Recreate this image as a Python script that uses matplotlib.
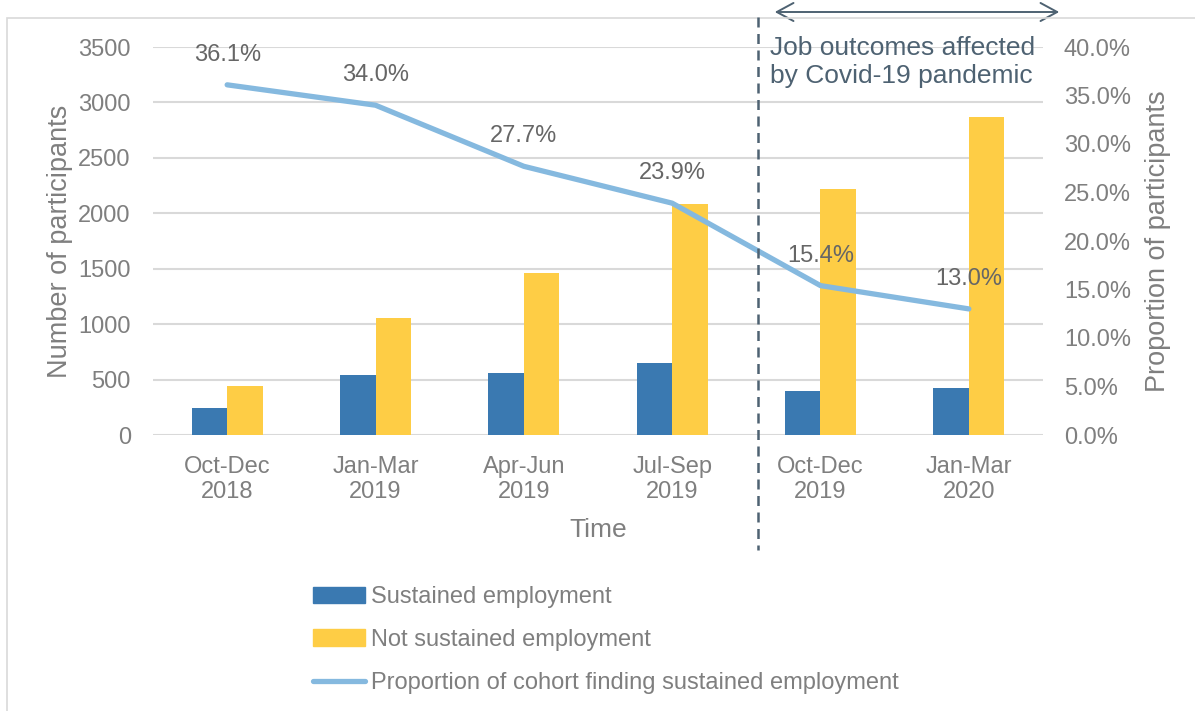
import numpy as np
import matplotlib
matplotlib.use('Agg')
import matplotlib.pyplot as plt
from matplotlib.lines import Line2D
from matplotlib.patches import Patch, Rectangle, FancyArrowPatch

plt.rcParams['font.family'] = ['Liberation Sans', 'DejaVu Sans']

# cohort quarters and outcomes
quarters = ['Oct-Dec\n2018', 'Jan-Mar\n2019', 'Apr-Jun\n2019',
            'Jul-Sep\n2019', 'Oct-Dec\n2019', 'Jan-Mar\n2020']
sustained = [246, 544, 559, 647, 397, 424]
not_sustained = [439, 1055, 1461, 2084, 2216, 2866]
proportion = [36.1, 34.0, 27.7, 23.9, 15.4, 13.0]

left_ticks = [0, 500, 1000, 1500, 2000, 2500, 3000, 3500]
right_ticks = [0, 5, 10, 15, 20, 25, 30, 35, 40]

BLUE = '#3A79B1'
YELLOW = '#FECD45'
LINE = '#85B9DF'
GREY = '#7F7F7F'
SLATE = '#4E6272'
GRID = '#D9D9D9'

W, H = 1195, 711
fig = plt.figure(figsize=(W / 100, H / 100), dpi=100)

def px(x, y):
    # pixel position (from top-left) -> figure fraction
    return x / W, 1 - y / H

# outer chart frame
fig.patches.append(Rectangle(px(7, 716), 1300 / W, (716 - 18) / H,
                             transform=fig.transFigure, fill=False,
                             edgecolor=GRID, linewidth=1.2))

x0, y0 = px(153, 435)
x1, y1 = px(1043, 47)
ax = fig.add_axes([x0, y0, x1 - x0, y1 - y0])
ax2 = ax.twinx()

x = np.arange(len(quarters))
bw = 0.24
ax.bar(x - bw / 2, sustained, bw, color=BLUE, zorder=2,
       label='Sustained employment')
ax.bar(x + bw / 2, not_sustained, bw, color=YELLOW, zorder=2,
       label='Not sustained employment')

ax.set_xlim(-0.5, len(quarters) - 0.5)
ax.set_ylim(0, 3500)
ax.set_yticks(left_ticks)
ax.set_xticks(x)
ax.set_xticklabels(quarters)
ax.grid(axis='y', color=GRID, linewidth=1.5, zorder=0)
ax.set_axisbelow(True)
for s in ax.spines.values():
    s.set_visible(False)
ax.tick_params(axis='both', length=0, labelsize=17, colors=GREY)
ax.tick_params(axis='y', pad=16)
ax.tick_params(axis='x', pad=15)
ax.set_ylabel('Number of participants', fontsize=19.5, color=GREY)
ax.yaxis.set_label_coords(-0.09, 0.5)
ax.set_xlabel('Time', fontsize=19, color=GREY)
ax.xaxis.set_label_coords(0.5, -0.215)

ax2.plot(x, proportion, color=LINE, linewidth=3.8, solid_capstyle='round',
         solid_joinstyle='round', zorder=3)
ax2.set_ylim(0, 40)
ax2.set_yticks(right_ticks)
ax2.set_yticklabels(['%.1f%%' % t for t in right_ticks])
for s in ax2.spines.values():
    s.set_visible(False)
ax2.tick_params(axis='y', length=0, labelsize=17, colors=GREY, pad=15)
ax2.set_ylabel('Proportion of participants', fontsize=19.5, color=GREY)
ax2.yaxis.set_label_coords(1.115, 0.5)

for xi, p in zip(x, proportion):
    ax2.annotate('%.1f%%' % p, (xi, p), xytext=(0, 21.5),
                 textcoords='offset points', ha='center', va='center',
                 fontsize=17, color='#666666')

# Covid-19 marker: dashed divider, span arrow and note
fig.add_artist(Line2D([758 / W, 758 / W], [1 - 17 / H, 1 - 550 / H],
                      transform=fig.transFigure, color=SLATE,
                      linewidth=1.8, linestyle=(0, (4, 2.6))))
fig.add_artist(FancyArrowPatch(px(772, 12), px(1062, 12),
                               transform=fig.transFigure,
                               arrowstyle='<->,head_length=12,head_width=6.5',
                               color=SLATE, linewidth=1.4))
fig.text(*px(770, 62), 'Job outcomes affected\nby Covid-19 pandemic',
         ha='left', va='center', fontsize=19, color=SLATE, linespacing=1.25)

handles = [Patch(color=BLUE), Patch(color=YELLOW),
           Line2D([], [], color=LINE, linewidth=3.8, solid_capstyle='round')]
labels = ['Sustained employment', 'Not sustained employment',
          'Proportion of cohort finding sustained employment']
fig.legend(handles, labels, loc='center left', bbox_to_anchor=px(313, 640),
           frameon=False, fontsize=17, labelcolor=GREY, borderpad=0,
           borderaxespad=0, handlelength=2.2, handletextpad=0.25,
           labelspacing=0.88)

fig.savefig('out.png', dpi=100)
